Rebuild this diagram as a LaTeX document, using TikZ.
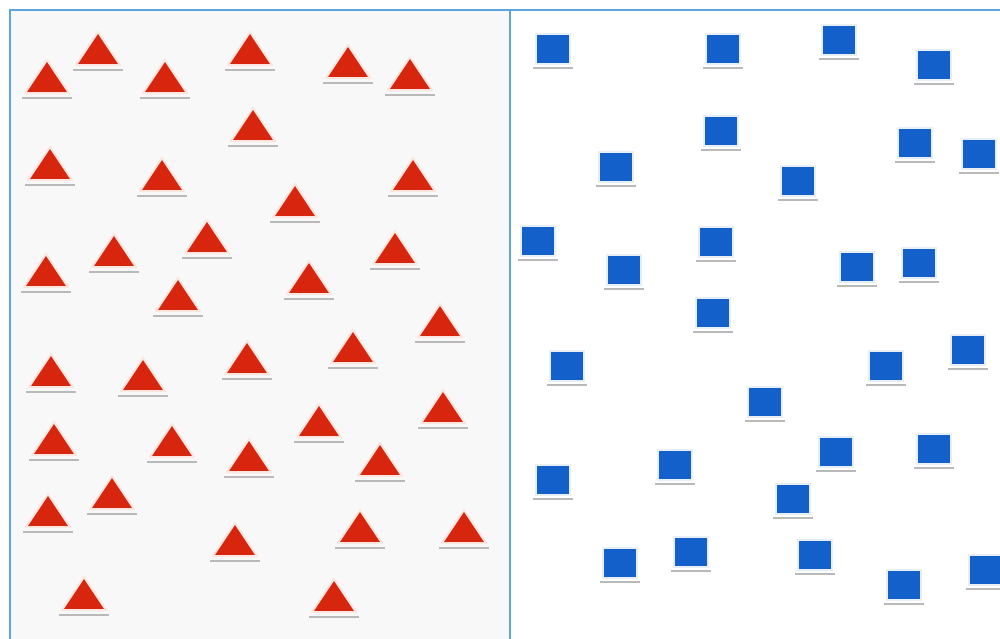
\documentclass[tikz,border=0pt]{standalone}
\usepackage{tikz}

\definecolor{trired}{RGB}{216,38,14}
\definecolor{sqblue}{RGB}{20,96,202}
\definecolor{framebl}{RGB}{95,165,220}
\definecolor{trihalo}{RGB}{250,230,222}
\definecolor{sqhalo}{RGB}{232,238,246}
\definecolor{panelgray}{RGB}{248,248,248}

\begin{document}
\begin{tikzpicture}[
      x=1pt, y=-1pt,
      frame/.style={draw=framebl, line width=1.2pt},
      tri/.style={fill=trired, draw=trihalo, line width=2pt, line join=round},
      sq/.style={fill=sqblue, draw=sqhalo, line width=2.5pt},
      shade/.style={draw=gray!55, line width=2pt}
    ]

    \clip (0,0) rectangle (1000,638);
    \fill[white] (0,0) rectangle (1000,638);

    % Two panels
    \fill[panelgray] (10,10) rectangle (510,660);
    \draw[frame] (10,660) -- (10,10) -- (1020,10);
    \draw[frame] (510,10) -- (510,660);

    % Left panel: triangles (apex x / base y)
    \foreach \x/\y [count=\i] in {47/93, 98/65, 165/93, 250/65, 348/78, 410/90,
        253/141, 50/180, 162/191, 413/191, 295/217, 207/253, 114/267, 395/264,
        46/287, 309/294, 178/311,
        440/337, 353/363, 247/374, 51/387, 143/391, 443/423, 319/437, 54/455,
        172/457, 249/472, 380/476, 112/509, 48/527, 360/543, 464/543, 235/556,
        84/610, 334/612} {
      \coordinate (t\i) at (\x,\y);
      \draw[shade] (\x-25,\y+5) -- (\x+25,\y+5);
      \draw[tri] (\x-22,\y) -- (\x,\y-33) -- (\x+22,\y) -- cycle;
    }

    % Right panel: squares (centre x / centre y)
    \foreach \x/\y [count=\i] in {553/49, 723/49, 839/40, 934/65, 721/131,
        915/143, 979/154, 616/167, 798/181, 538/241, 716/242, 624/270, 857/267,
        919/263, 713/313,
        567/366, 886/366, 968/350, 765/402, 836/452, 934/449, 675/465, 553/480,
        793/499, 691/552, 620/563, 815/555, 904/585, 986/570} {
      \coordinate (s\i) at (\x,\y);
      \draw[shade] (\x-20,\y+19) -- (\x+20,\y+19);
      \draw[sq] (\x-17,\y-15) rectangle (\x+17,\y+15);
    }

  \end{tikzpicture}
\end{document}
